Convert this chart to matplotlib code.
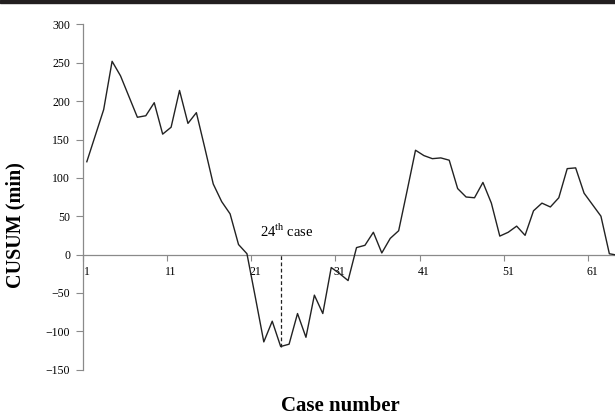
"""CUSUM learning-curve line plot (case number vs. cumulative minutes)."""

import matplotlib

matplotlib.use("Agg")
import matplotlib.pyplot as plt  # noqa: E402
from matplotlib.patches import Rectangle  # noqa: E402
import numpy as np  # noqa: E402

# values
cases = np.arange(1, 65)
cusum = [
    121, 155, 189, 252, 233, 206, 179, 181, 198, 157,
    166, 214, 171, 185, 139, 92, 69, 53, 13, 1,
    -56, -114, -87, -120, -117, -77, -108, -53, -77, -17,
    -25, -34, 9, 12, 29, 2, 21, 31, 83, 136,
    129, 125, 126, 123, 86, 75, 74, 94, 67, 24,
    29, 37, 25, 57, 67, 62, 74, 112, 113, 80,
    65, 50, 1, -1,
]
marked_case = 24
x_labels = [1, 11, 21, 31, 41, 51, 61]
y_ticks = [-150, -100, -50, 0, 50, 100, 150, 200, 250, 300]

plt.rcParams["font.family"] = ["Liberation Serif", "DejaVu Serif"]
plt.rcParams["mathtext.fontset"] = "custom"
plt.rcParams["mathtext.rm"] = "Liberation Serif"

W, H = 615, 418
axis_grey = "#8a8a8a"

fig = plt.figure(figsize=(W / 100, H / 100), dpi=100)
fig.patches.append(Rectangle((0, 1 - 3 / H), 1, 3 / H, transform=fig.transFigure,
                             color="#231f20", zorder=10))

ax = fig.add_axes([82.6 / W, 1 - 369.5 / H, (622 - 82.6) / W, 345 / H])
ax.plot(cases, cusum, color="#222222", lw=1.0, zorder=3)
ax.vlines(marked_case, cusum[marked_case - 1], 0, colors="#222222",
          linestyles=(0, (3, 2)), lw=0.9, zorder=3)
ax.text(marked_case + 0.7, 30, "24$^{\\mathrm{th}}$ case", fontsize=10.5,
        ha="center", va="center")

ax.set_xlim(0.5, 64.5)
ax.set_ylim(-150, 300)
ax.set_yticks(y_ticks)
ax.tick_params(axis="y", direction="out", length=5, width=0.8, color=axis_grey,
               labelsize=8.5, pad=4)

ax.set_xticks(np.arange(0.5, 61, 10))
ax.set_xticklabels([])
ax.tick_params(axis="x", which="major", direction="out", length=4, width=0.8,
               color=axis_grey)
ax.set_xticks(x_labels, minor=True)
ax.set_xticklabels([str(v) for v in x_labels], minor=True)
ax.tick_params(axis="x", which="minor", length=0, labelsize=8.5, pad=8)

ax.spines["bottom"].set_position(("data", 0))
for side in ("bottom", "left"):
    ax.spines[side].set_color(axis_grey)
    ax.spines[side].set_linewidth(0.9)
ax.spines["top"].set_visible(False)
ax.spines["right"].set_visible(False)

fig.text(15 / W, 1 - 225 / H, "CUSUM (min)", rotation=90, fontsize=14.5,
         fontweight="bold", ha="center", va="center")
fig.text(340.5 / W, 1 - 406 / H, "Case number", fontsize=15,
         fontweight="bold", ha="center", va="center")

fig.savefig("out.png", dpi=100)
plt.close(fig)
